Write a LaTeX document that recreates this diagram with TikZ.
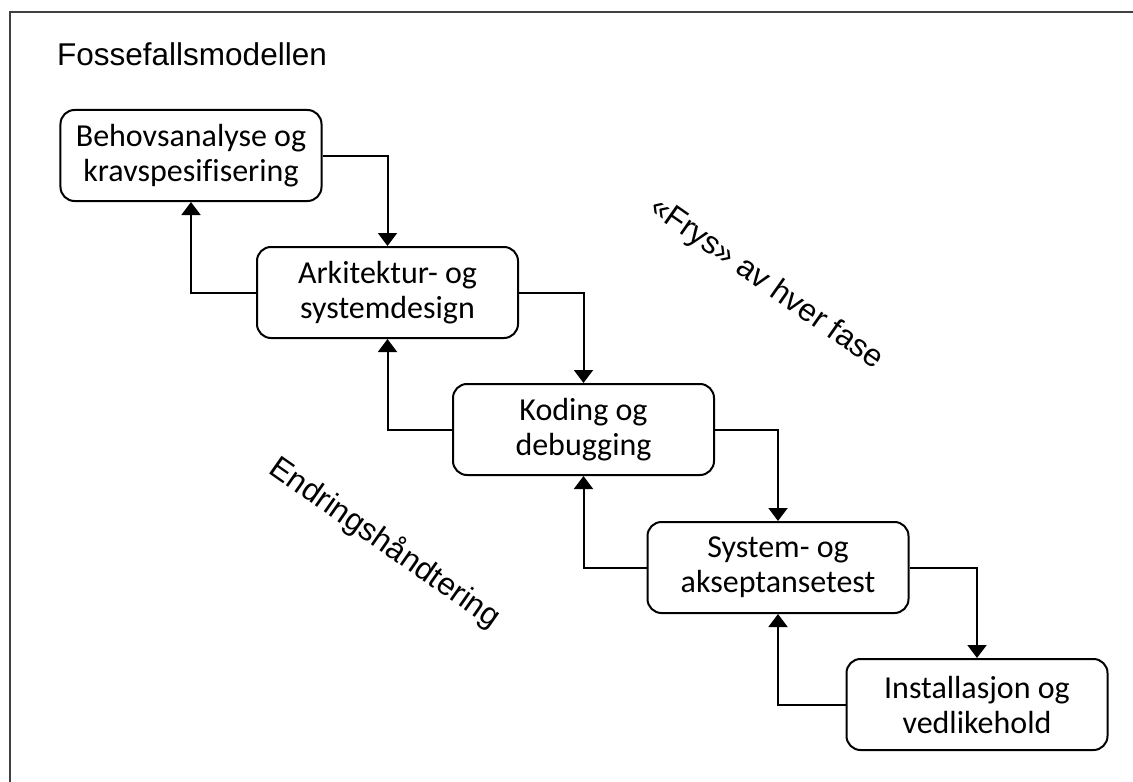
\documentclass[tikz,border=0pt]{standalone}
\usepackage{fontspec}
\setmainfont{Carlito}[Ligatures=NoCommon]
\newfontfamily\arialfont{Liberation Sans}
\usetikzlibrary{arrows.meta}
\begin{document}
\begin{tikzpicture}[x=1bp,y=-1bp,
  phase/.style={draw=black, line width=2bp, rounded corners=14bp,
    minimum width=261bp, minimum height=91bp, align=center, inner sep=0pt,
    font=\fontsize{32bp}{35bp}\selectfont},
  flow/.style={draw=black, line width=2bp, -{Triangle[width=19bp,length=13bp]}},
  note/.style={font=\arialfont\fontsize{31.5bp}{35bp}\selectfont, inner sep=0pt}]
\useasboundingbox (0,0) rectangle (1133,782);
% open frame: top and left edges only
\draw[line width=2bp, draw=black!75] (10,782) -- (10,12) -- (1133,12);

\node[note, anchor=base west] (title) at (57,66) {Fossefallsmodellen};

% phases of the waterfall
\node[phase] (b1) at (191,155.5) {Behovsanalyse og\\kravspesifisering};
\node[phase] (b2) at (387.5,292.5) {Arkitektur- og\\systemdesign};
\node[phase] (b3) at (583.5,429.5) {Koding og\\debugging};
\node[phase] (b4) at (778,567.5) {System- og\\akseptansetest};
\node[phase] (b5) at (977,704.5) {Installasjon og\\vedlikehold};

% forward flow
\draw[flow] (b1.east) -| (b2.north);
\draw[flow] (b2.east) -| (b3.north);
\draw[flow] (b3.east) -| (b4.north);
\draw[flow] (b4.east) -| (b5.north);
% change handling, back to the previous phase
\draw[flow] (b2.west) -| (b1.south);
\draw[flow] (b3.west) -| (b2.south);
\draw[flow] (b4.west) -| (b3.south);
\draw[flow] (b5.west) -| (b4.south);

\node[note, rotate=-35] (frys) at (766,284) {«Frys» av hver fase};
\node[note, rotate=-35] (endring) at (385,543) {Endringshåndtering};
\end{tikzpicture}
\end{document}
